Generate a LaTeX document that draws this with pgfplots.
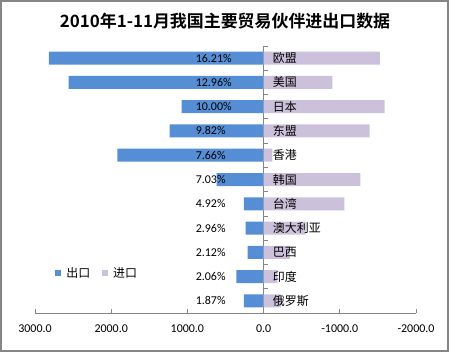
\documentclass[border=0pt]{standalone}
\usepackage{pgfplots}
\pgfplotsset{compat=1.18}
\usepackage{fontspec}
\setmainfont{Carlito}
\newfontfamily\cjk[BoldFont={Noto Sans CJK SC Bold}]{Noto Sans CJK SC}
\definecolor{expblue}{RGB}{85,142,213}
\definecolor{implav}{RGB}{204,193,218}
\definecolor{axgray}{RGB}{134,134,134}
\begin{document}
\begin{tikzpicture}
\useasboundingbox (-35bp,-40bp) rectangle (415bp,313bp);
\draw[axgray, line width=1.3bp] (-34bp,-38bp) rectangle (413bp,312bp);
\node[font=\cjk\bfseries\fontsize{17}{20}\selectfont] at (190bp,292bp) {2010年1-11月我国主要贸易伙伴进出口数据};
\begin{axis}[
  at={(0,0)}, anchor=south west,
  scale only axis, width=381bp, height=267bp,
  x dir=reverse, xmin=-2000, xmax=3000,
  y dir=reverse, ymin=-0.5, ymax=10.5,
  axis x line=bottom, axis y line=middle,
  axis line style={-, draw=axgray, line width=0.8bp},
  every inner y axis line/.append style={-},
  every outer x axis line/.append style={-},
  xtick={-2000,-1000,0,1000,2000,3000},
  xticklabels={-2000.0,-1000.0,0.0,1000.0,2000.0,3000.0},
  xticklabel style={font=\fontsize{12}{14}\selectfont, yshift=-6bp},
  ytick={-0.5,0.5,1.5,2.5,3.5,4.5,5.5,6.5,7.5,8.5,9.5,10.5},
  yticklabels={},
  tick align=center,
  major tick length=4bp,
  tick style={draw=axgray, line width=0.8bp},
  xtick style={yshift=2bp},
  ytick style={xshift=2bp},
  clip=false,
  legend columns=2,
  legend style={draw=none, fill=none, at={(axis description cs:0.045,0.148)}, anchor=west,
    font=\cjk\fontsize{12}{14}\selectfont, column sep=3bp,
    /tikz/every even column/.append style={column sep=10bp}},
]
\addplot[xbar, bar width=13bp, bar shift=0pt, fill=expblue, draw=none,
  legend image code/.code={\fill[expblue] (0bp,-3bp) rectangle (6bp,3bp);}]
  coordinates {(2818,0) (2559,1) (1076,2) (1234,3) (1920,4) (617,5) (258,6) (236,7) (210,8) (358,9) (258,10)};
\addlegendentry{出口}
\addplot[xbar, bar width=13bp, bar shift=0pt, fill=implav, draw=none,
  legend image code/.code={\fill[implav] (0bp,-3bp) rectangle (6bp,3bp);}]
  coordinates {(-1526,0) (-901,1) (-1588,2) (-1391,3) (-114,4) (-1269,5) (-1059,6) (-551,7) (-345,8) (-180,9) (-230,10)};
\addlegendentry{进口}
\addplot[draw=none, mark=none, forget plot, nodes near coords, point meta=explicit symbolic,
  every node near coord/.append style={anchor=west, inner sep=0pt, font=\fontsize{12}{14}\selectfont}]
  coordinates {(892,0) [16.21\%] (892,1) [12.96\%] (892,2) [10.00\%] (892,3) [9.82\%] (892,4) [7.66\%]
  (892,5) [7.03\%] (892,6) [4.92\%] (892,7) [2.96\%] (892,8) [2.12\%] (892,9) [2.06\%] (892,10) [1.87\%]};
\addplot[draw=none, mark=none, forget plot, nodes near coords, point meta=explicit symbolic,
  every node near coord/.append style={anchor=west, inner sep=0pt, font=\cjk\fontsize{12}{14}\selectfont}]
  coordinates {(-120,0) [欧盟] (-120,1) [美国] (-120,2) [日本] (-120,3) [东盟] (-120,4) [香港]
  (-120,5) [韩国] (-120,6) [台湾] (-120,7) [澳大利亚] (-120,8) [巴西] (-120,9) [印度] (-120,10) [俄罗斯]};
\end{axis}
\end{tikzpicture}
\end{document}
